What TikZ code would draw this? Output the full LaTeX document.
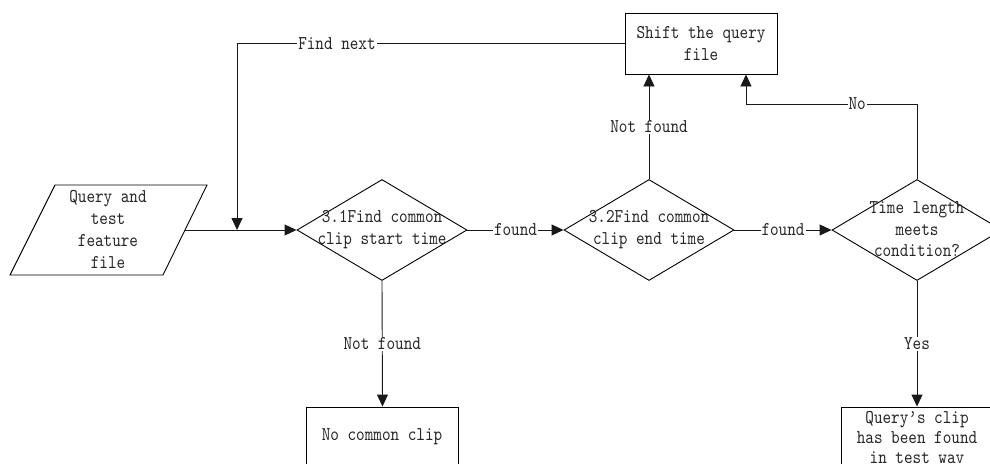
\documentclass[tikz,border=0pt]{standalone}
\usepackage{fontspec}
\usetikzlibrary{shapes.geometric,arrows.meta}
% narrow, tall typewriter face for all labels
\newfontfamily\dgfont{lmmono10-regular}[Extension=.otf, FakeStretch=0.84]
\begin{document}
\begin{tikzpicture}[x=1pt,y=-1pt,
  every node/.style={font=\dgfont\fontsize{19.5}{22}\selectfont, text=black!85},
  dec/.style={draw=black, diamond, minimum width=170pt, minimum height=101pt, inner sep=0pt, line width=0.9pt},
  procbox/.style={draw=black, rectangle, minimum width=152pt, minimum height=61pt, inner sep=0pt, line width=0.9pt},
  txt/.style={align=center, inner sep=0pt},
  lbl/.style={fill=white, inner sep=1pt},
  conn/.style={line width=0.9pt, draw=black!90},
  arr/.style={conn, -{Triangle[length=12pt,width=11pt]}}
]
\useasboundingbox (0,0) rectangle (990,463);
\clip (0,0) rectangle (990,463);

% input parallelogram
\draw[line width=0.9pt] (55,185) -- (207,185) -- (163,275) -- (10,275) -- cycle;
\node[txt] (intext) at (108,229) {Query and\\test\\feature\\file};
\coordinate (inR) at (185,230);

% decisions
\node[dec] (d1) at (382,230) {};
\node[txt] (d1t) at (382,230) {3.1Find common\\clip start time};
\node[dec] (d2) at (649,230) {};
\node[txt] (d2t) at (649,230) {3.2Find common\\clip end time};
\node[dec] (d3) at (917,230) {};
\node[txt, font=\dgfont\fontsize{19.5}{21.5}\selectfont] (d3t) at (917,229.5) {Time length\\meets\\condition?};

% process boxes
\node[procbox] (shift) at (701,43.5) {};
\node[txt] (shiftt) at (701,43) {Shift the query\\file};
\node[procbox] (nocl) at (382.5,437.5) {};
\node[txt] (noclt) at (382,437) {No common clip};
\node[procbox] (found) at (917,437.5) {};
\node[txt, font=\dgfont\fontsize{19.5}{20}\selectfont] (foundt) at (917,437) {Query’s clip\\has been found\\in test wav};

% junction points
\coordinate (j) at (237,230);
\coordinate (nk) at (746,104);

% connectors
\draw[arr] (inR) -- (d1.west);
\draw[arr] (shift.west) -| node[pos=0.371,lbl]{Find next} (j);
\draw[arr] (d1.east) -- node[lbl]{found} (d2.west);
\draw[arr] (d2.east) -- node[lbl]{found} (d3.west);
\draw[arr] (d2.north) -- node[lbl]{Not found} (d2.north |- shift.south);
\draw[conn] (d3.north) |- node[pos=0.675,lbl]{No} (nk);
\draw[arr] (nk) -- (nk |- shift.south);
\draw[arr] (d1.south) -- node[lbl]{Not found} (nocl.north);
\draw[arr] (d3.south) -- node[lbl]{Yes} (found.north);
\end{tikzpicture}
\end{document}
